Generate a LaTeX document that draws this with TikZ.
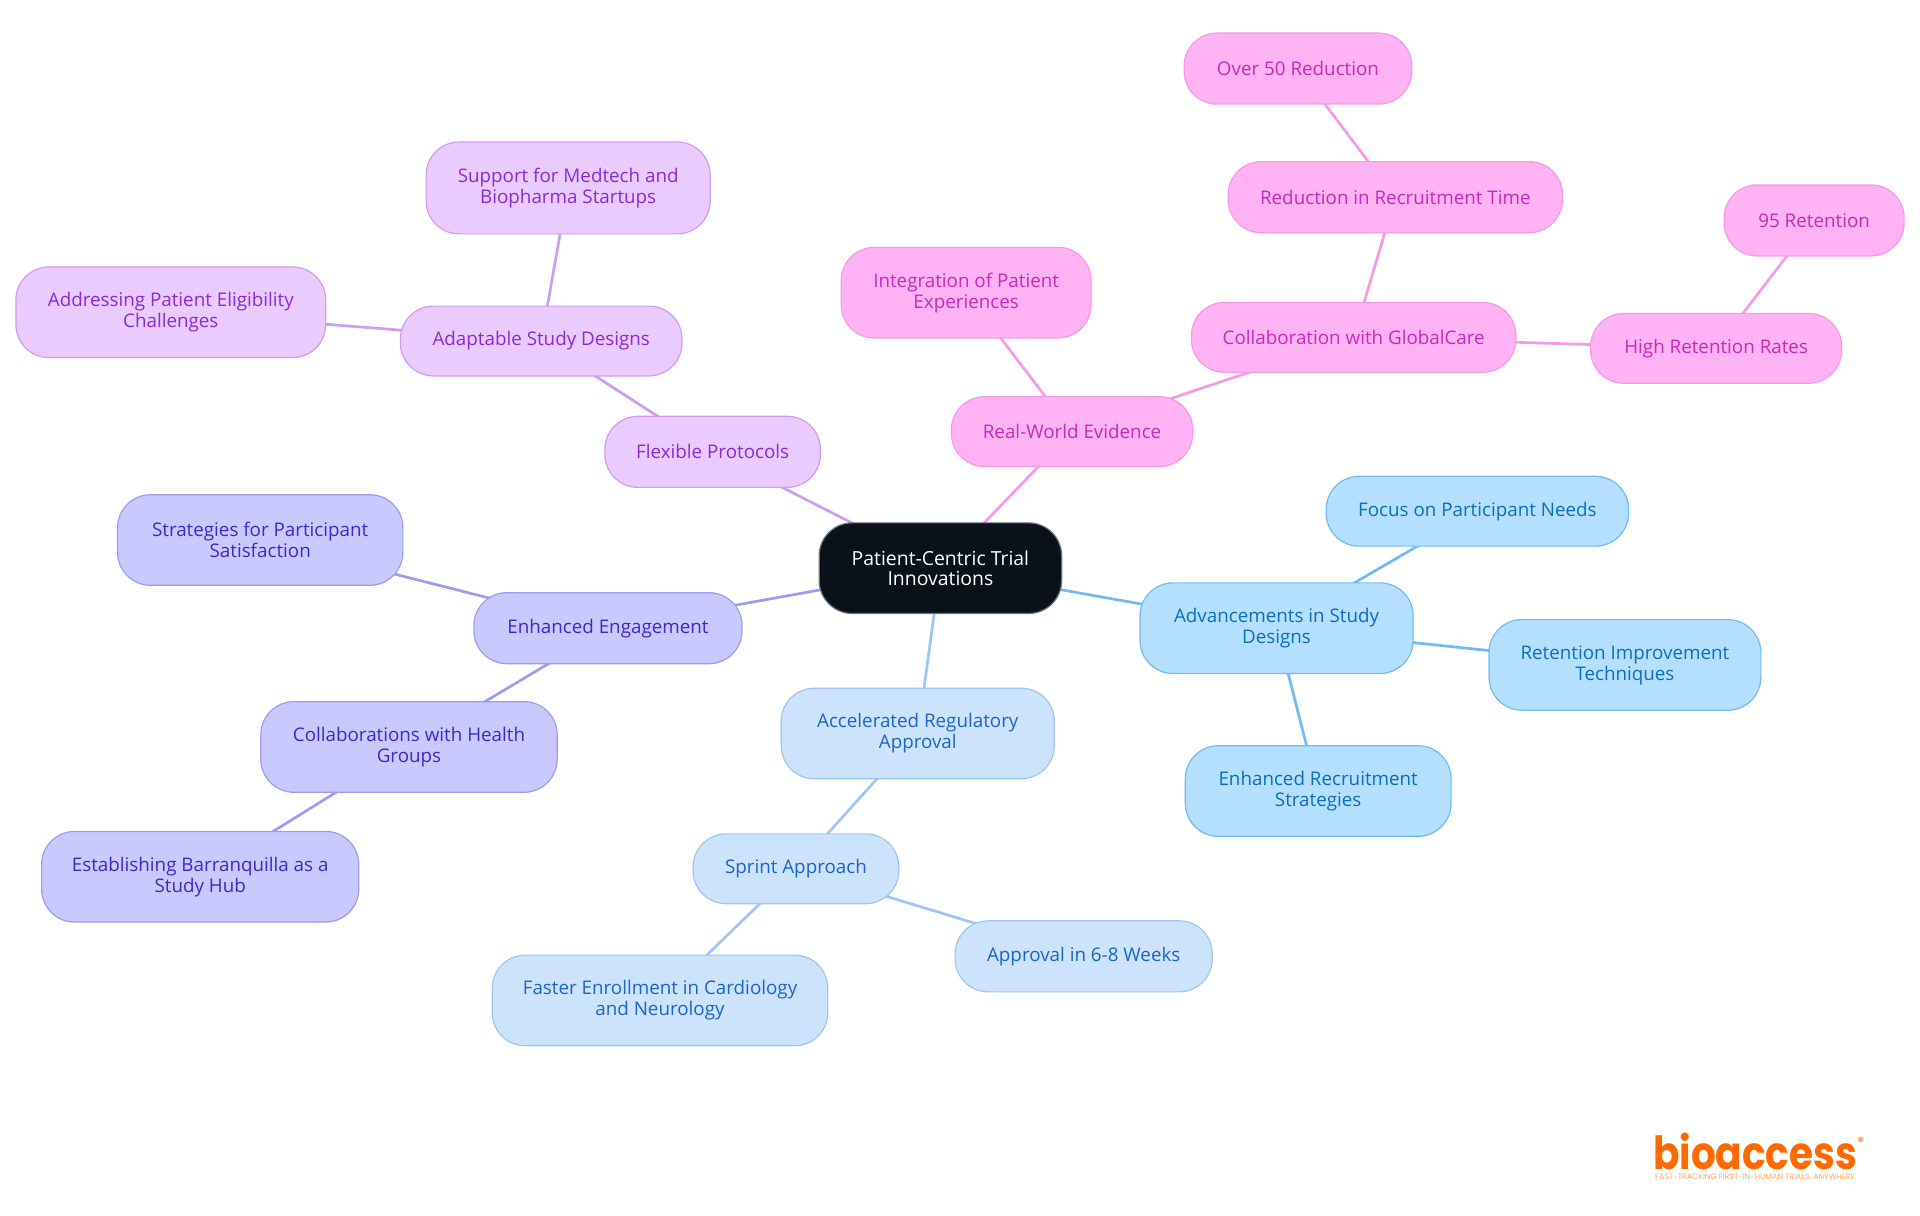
\documentclass[tikz,border=0pt]{standalone}
\usepackage{fontspec}
\usepackage{graphicx}
\usetikzlibrary{backgrounds}
\setmainfont{Open Sans}
\newfontfamily\logofont{Poppins}
\definecolor{rootfill}{HTML}{0B1119}
\definecolor{rootline}{HTML}{6E7278}
\definecolor{pinkfill}{HTML}{FFB3F3}\definecolor{pinkline}{HTML}{F59AE8}\definecolor{pinktext}{HTML}{C72BBE}
\definecolor{violfill}{HTML}{E9CBFF}\definecolor{violline}{HTML}{CF9CF5}\definecolor{violtext}{HTML}{8A2BD8}
\definecolor{indfill}{HTML}{C9C9FF}\definecolor{indline}{HTML}{9C9CF2}\definecolor{indtext}{HTML}{3A2BC8}
\definecolor{bluefill}{HTML}{CDE3FC}\definecolor{blueline}{HTML}{9FC6F2}\definecolor{bluetext}{HTML}{1A66C8}
\definecolor{skyfill}{HTML}{B5DFFF}\definecolor{skyline}{HTML}{72BBF2}\definecolor{skytext}{HTML}{0A6FBE}
\definecolor{logoorange}{HTML}{FF6A00}
\tikzset{
 x=0.5pt,y=-0.5pt,
 mm/.style={draw,rounded corners=16.5pt,line width=0.6pt,inner sep=0pt,outer sep=0pt,align=center,font=\fontsize{9.4pt}{10.45pt}\selectfont},
 rootn/.style={mm,fill=rootfill,draw=rootline,text=white,font=\fontsize{9.7pt}{10.3pt}\selectfont},
 pinkn/.style={mm,fill=pinkfill,draw=pinkline,text=pinktext},
 violn/.style={mm,fill=violfill,draw=violline,text=violtext},
 indn/.style={mm,fill=indfill,draw=indline,text=indtext},
 bluen/.style={mm,fill=bluefill,draw=blueline,text=bluetext},
 skyn/.style={mm,fill=skyfill,draw=skyline,text=skytext},
 link/.style={line width=1.35pt},
}
% name, x0, y0, x1, y1 (shrunk-view pixels), style, text
\newcommand{\mmnode}[7]{%
 \pgfmathsetmacro{\cxx}{(#2+#4)/2*1.2245}\pgfmathsetmacro{\cyy}{(#3+#5)/2*1.2245}%
 \pgfmathsetmacro{\wdd}{(#4-#2)*1.2245*0.5}\pgfmathsetmacro{\htt}{(#5-#3)*1.2245*0.5}%
 \node[#6,minimum width=\wdd pt,minimum height=\htt pt] (#1) at (\cxx,\cyy) {#7};}
\newcommand{\lnk}[3]{\draw[link,#1] (#2.center) -- (#3.center);}
\begin{document}
\begin{tikzpicture}
\useasboundingbox (0,0) rectangle (1920,1215);
\mmnode{root}{669}{427}{867}{501}{rootn}{Patient-Centric Trial\\Innovations}
\mmnode{flex}{494}{340}{670}{398}{violn}{Flexible Protocols}
\mmnode{adapt}{327}{250}{557}{307}{violn}{Adaptable Study Designs}
\mmnode{supp}{348}{116}{580}{191}{violn}{Support for Medtech and\\Biopharma Startups}
\mmnode{addr}{13}{218}{266}{292}{violn}{Addressing Patient Eligibility\\Challenges}
\mmnode{rwe}{777}{324}{974}{381}{pinkn}{Real-World Evidence}
\mmnode{integ}{687}{202}{891}{276}{pinkn}{Integration of Patient\\Experiences}
\mmnode{glob}{973}{247}{1238}{304}{pinkn}{Collaboration with GlobalCare}
\mmnode{redu}{1003}{132}{1276}{190}{pinkn}{Reduction in Recruitment Time}
\mmnode{over}{967}{27}{1153}{85}{pinkn}{Over 50 Reduction}
\mmnode{high}{1299}{256}{1504}{313}{pinkn}{High Retention Rates}
\mmnode{nine}{1408}{151}{1555}{209}{pinkn}{95 Retention}
\mmnode{adv}{931}{476}{1154}{550}{skyn}{Advancements in Study\\Designs}
\mmnode{focus}{1083}{389}{1330}{446}{skyn}{Focus on Participant Needs}
\mmnode{rete}{1216}{506}{1438}{580}{skyn}{Retention Improvement\\Techniques}
\mmnode{recr}{968}{609}{1185}{683}{skyn}{Enhanced Recruitment\\Strategies}
\mmnode{accel}{638}{562}{861}{636}{bluen}{Accelerated Regulatory\\Approval}
\mmnode{sprint}{566}{681}{734}{738}{bluen}{Sprint Approach}
\mmnode{appr}{780}{752}{990}{810}{bluen}{Approval in 6-8 Weeks}
\mmnode{fast}{402}{780}{676}{854}{bluen}{Faster Enrollment in Cardiology\\and Neurology}
\mmnode{enga}{387}{484}{606}{542}{indn}{Enhanced Engagement}
\mmnode{stra}{96}{404}{329}{478}{indn}{Strategies for Participant\\Satisfaction}
\mmnode{coll}{213}{573}{455}{647}{indn}{Collaborations with Health\\Groups}
\mmnode{esta}{34}{679}{293}{753}{indn}{Establishing Barranquilla as a\\Study Hub}
\node[inner sep=0pt,anchor=base,text=logoorange,font=\logofont\bfseries\fontsize{22.8pt}{24pt}\selectfont] (logo) at (1755,1169) {\scalebox{0.855}[1]{bioaccess}};
\node[inner sep=0pt,text=logoorange,font=\logofont\fontsize{6.5pt}{7pt}\selectfont] (reg) at (1861,1142) {®};
\node[inner sep=0pt,text=logoorange!60,font=\logofont\fontsize{3.95pt}{4pt}\selectfont] (tag) at (1755,1177) {FAST-TRACKING FIRST-IN-HUMAN TRIALS, ANYWHERE};
\begin{scope}[on background layer]
\lnk{violline}{root}{flex}\lnk{violline}{flex}{adapt}\lnk{violline}{adapt}{supp}\lnk{violline}{adapt}{addr}
\lnk{pinkline}{root}{rwe}\lnk{pinkline}{rwe}{integ}\lnk{pinkline}{rwe}{glob}\lnk{pinkline}{glob}{redu}\lnk{pinkline}{redu}{over}\lnk{pinkline}{glob}{high}\lnk{pinkline}{high}{nine}
\lnk{skyline}{root}{adv}\lnk{skyline}{adv}{focus}\lnk{skyline}{adv}{rete}\lnk{skyline}{adv}{recr}
\lnk{blueline}{root}{accel}\lnk{blueline}{accel}{sprint}\lnk{blueline}{sprint}{appr}\lnk{blueline}{sprint}{fast}
\lnk{indline}{root}{enga}\lnk{indline}{enga}{stra}\lnk{indline}{enga}{coll}\lnk{indline}{coll}{esta}
\end{scope}
\end{tikzpicture}
\end{document}
